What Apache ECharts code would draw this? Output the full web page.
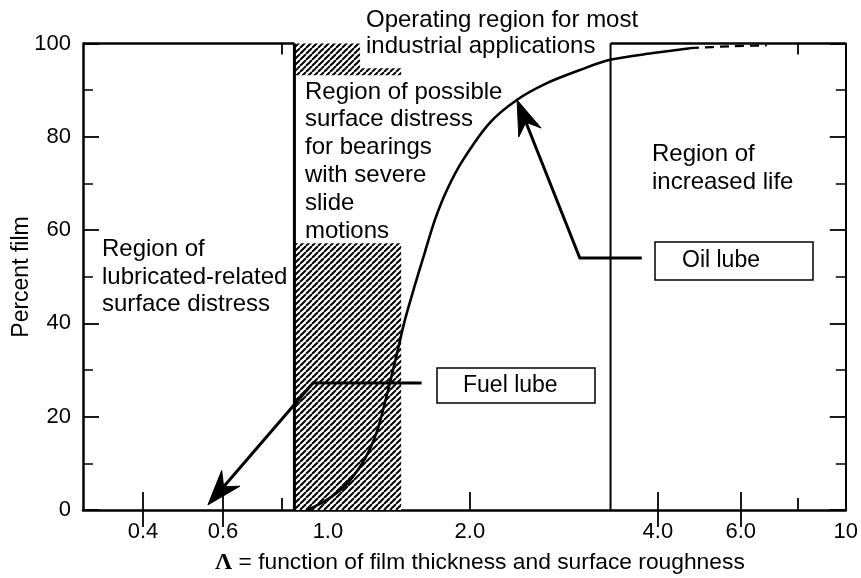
<!DOCTYPE html>
<html>
<head>
<meta charset="utf-8">
<script src="https://cdn.jsdelivr.net/npm/echarts@6/dist/echarts.min.js"></script>
<style>
html,body{margin:0;padding:0;background:#fff;}
#chart{width:861px;height:578px;}
</style>
</head>
<body>
<div id="chart"></div>
<script>
// ================= DATA =================
// x tick labels (Λ) and their values
const xTickLabels = ['0.4', '0.6', '1.0', '2.0', '4.0', '6.0', '10'];
const xTickValues = [0.4, 0.6, 1.0, 2.0, 4.0, 6.0, 10];
const xMinorTickValues = [0.8, 8.0];
const xTopTickValues = [0.4, 0.6, 4.0, 6.0];
const xTopMinorTickValues = [0.8, 8.0];
const xAxisMin = 0.3;
const xAxisMax = 10;

// percent-film curve (solid) and its dashed extension
const curveLambda  = [0.907, 0.962, 1.010, 1.086, 1.169, 1.228, 1.276, 1.334, 1.394, 1.456, 1.529, 1.606, 1.686, 1.788, 1.933, 2.152, 2.378, 2.657, 2.999, 3.351, 3.958, 4.68];
const curvePercent = [0.0,   1.3,   2.6,   5.1,   9.2,   13.1,  17.4,  24.7,  32.6,  40.7,  48.2,  55.3,  62.2,  68.6,  75.0,  83.0,  87.9,  91.5,  94.3,  96.5,  98.0,  99.0];
const dashLambda   = [4.68, 5.68, 6.84];
const dashPercent  = [99.0, 99.4, 99.6];

// region boundaries (Λ)
const lubeDistressUpper = 0.85;   // right edge of "lubricated-related surface distress" region
const increasedLifeLower = 3.36;  // left edge of "increased life" region

// hatched areas: Λ from/to, percent from/to
const hatchLambdaFrom  = [0.85, 0.85, 0.85];
const hatchLambdaTo    = [1.43, 1.17, 1.43];
const hatchPercentFrom = [0.0, 94.7, 93.2];
const hatchPercentTo   = [57.2, 100, 94.7];

// annotation arrows (Λ, percent); last point is the arrow tip
const fuelArrowLambda  = [1.58, 0.93, 0.556];
const fuelArrowPercent = [27.2, 27.2, 1.1];
const oilArrowLambda   = [3.77, 3.00, 2.38];
const oilArrowPercent  = [54.0, 54.0, 87.9];

// ================= AXIS SCALE =================
// The printed Λ axis is a hand-drawn, non-uniform logarithmic scale;
// calibration of printed tick values to their fraction along the axis.
const axisCalLambda = [0.3, 0.4, 0.6, 0.8, 1.0, 2.0, 4.0, 6.0, 8.0, 10];
const axisCalFrac   = [0, 0.0786, 0.1835, 0.2608, 0.3211, 0.5072, 0.7536, 0.8624, 0.9371, 1];
function lam2u(L) {
  const n = axisCalLambda.length;
  for (let i = 0; i < n - 1; i++) {
    const a = axisCalLambda[i], b = axisCalLambda[i + 1];
    if (L <= b || i === n - 2) {
      const t = (Math.log(L) - Math.log(a)) / (Math.log(b) - Math.log(a));
      return axisCalFrac[i] + t * (axisCalFrac[i + 1] - axisCalFrac[i]);
    }
  }
}
function xLabelFor(u) {
  for (let i = 0; i < xTickValues.length; i++) {
    if (Math.abs(lam2u(xTickValues[i]) - u) < 1e-6) return xTickLabels[i];
  }
  return '';
}

// hatch pattern
function makeHatch() {
  const c = document.createElement('canvas');
  c.width = 6; c.height = 6;
  const g = c.getContext('2d');
  g.fillStyle = '#fff'; g.fillRect(0, 0, 6, 6);
  g.strokeStyle = '#000'; g.lineWidth = 2;
  g.beginPath();
  for (let k = -1; k <= 1; k++) { g.moveTo(k * 6, 6); g.lineTo(k * 6 + 6, 0); }
  g.stroke();
  return c;
}
const hatchFill = { image: makeHatch(), repeat: 'repeat' };

const FONT = 'Liberation Sans, Arial, Helvetica, sans-serif';
const BLACK = '#000';

const chart = echarts.init(document.getElementById('chart'), null, { renderer: 'canvas' });

const hatchData = hatchLambdaFrom.map((v, i) => [lam2u(v), lam2u(hatchLambdaTo[i]), hatchPercentFrom[i], hatchPercentTo[i]]);
const frameData = [
  [lam2u(xAxisMin), 100, lam2u(lubeDistressUpper), 100, 2.5],
  [lam2u(lubeDistressUpper), 0, lam2u(lubeDistressUpper), 100, 3],
  [lam2u(increasedLifeLower), 0, lam2u(increasedLifeLower), 100, 2],
  [lam2u(increasedLifeLower), 100, lam2u(xAxisMax), 100, 2.5]
];
const arrows = [
  fuelArrowLambda.map((L, i) => [lam2u(L), fuelArrowPercent[i]]),
  oilArrowLambda.map((L, i) => [lam2u(L), oilArrowPercent[i]])
];

function tickAxis(position, values, len) {
  return {
    type: 'value', min: 0, max: 1, position: position,
    axisLine: { show: false }, splitLine: { show: false },
    axisLabel: { show: false },
    axisTick: { show: true, inside: true, length: len, customValues: values.map(lam2u), lineStyle: { color: BLACK, width: 1.8 } }
  };
}

const option = {
  backgroundColor: '#fff',
  animation: false,
  grid: { left: 83, right: 15, top: 43.5, bottom: 68, containLabel: false },
  xAxis: [
    {
      type: 'value', min: 0, max: 1, position: 'bottom',
      axisLine: { show: true, onZero: false, lineStyle: { color: BLACK, width: 2.5 } },
      splitLine: { show: false },
      axisTick: { show: true, inside: true, length: 18, customValues: xTickValues.map(lam2u), lineStyle: { color: BLACK, width: 1.8 } },
      axisLabel: { customValues: xTickValues.map(lam2u), formatter: (v) => xLabelFor(v), color: BLACK, fontSize: 22, fontFamily: FONT, margin: 11 }
    },
    tickAxis('bottom', xMinorTickValues, 12),
    tickAxis('top', xTopTickValues, 17),
    tickAxis('top', xTopMinorTickValues, 11)
  ],
  yAxis: [
    {
      type: 'value', min: 0, max: 100, interval: 20, position: 'left',
      axisLine: { show: true, onZero: false, lineStyle: { color: BLACK, width: 2.5 } },
      axisTick: { show: true, inside: true, length: 16, lineStyle: { color: BLACK, width: 1.8 } },
      minorTick: { show: true, splitNumber: 2, length: 10, lineStyle: { color: BLACK, width: 1.5 } },
      axisLabel: { color: BLACK, fontSize: 22, fontFamily: FONT, margin: 12 },
      splitLine: { show: false }, minorSplitLine: { show: false }
    },
    {
      type: 'value', min: 0, max: 100, interval: 20, position: 'right',
      axisLine: { show: true, onZero: false, lineStyle: { color: BLACK, width: 2 } },
      axisTick: { show: true, inside: true, length: 16, lineStyle: { color: BLACK, width: 1.8 } },
      minorTick: { show: true, splitNumber: 2, length: 10, lineStyle: { color: BLACK, width: 1.5 } },
      axisLabel: { show: false },
      splitLine: { show: false }, minorSplitLine: { show: false }
    }
  ],
  series: [
    {
      type: 'custom', name: 'hatch', z: 1,
      renderItem: function (params, api) {
        const p0 = api.coord([api.value(0), api.value(3)]);
        const p1 = api.coord([api.value(1), api.value(2)]);
        return { type: 'rect', shape: { x: p0[0], y: p0[1], width: p1[0] - p0[0], height: p1[1] - p0[1] }, style: { fill: hatchFill, stroke: null } };
      },
      encode: { x: [0, 1], y: [2, 3] },
      data: hatchData
    },
    {
      type: 'custom', name: 'frame', z: 3,
      renderItem: function (params, api) {
        const a = api.coord([api.value(0), api.value(1)]);
        const b = api.coord([api.value(2), api.value(3)]);
        return { type: 'line', shape: { x1: a[0], y1: a[1], x2: b[0], y2: b[1] }, style: { stroke: BLACK, lineWidth: api.value(4) } };
      },
      encode: { x: [0, 2], y: [1, 3] },
      data: frameData
    },
    {
      type: 'line', name: 'Percent film', z: 5,
      data: curveLambda.map((L, i) => [lam2u(L), curvePercent[i]]),
      smooth: 0.3, showSymbol: false, symbol: 'none',
      lineStyle: { color: BLACK, width: 2.6 }
    },
    {
      type: 'line', name: 'Percent film (extrapolated)', z: 5,
      data: dashLambda.map((L, i) => [lam2u(L), dashPercent[i]]),
      smooth: 0.3, showSymbol: false, symbol: 'none',
      lineStyle: { color: BLACK, width: 2.2, type: [9, 6] }
    },
    {
      type: 'custom', name: 'arrows', z: 6,
      renderItem: function (params, api) {
        const pts = arrows[params.dataIndex].map(p => api.coord(p));
        const n = pts.length;
        const tip = pts[n - 1], prev = pts[n - 2];
        let dx = tip[0] - prev[0], dy = tip[1] - prev[1];
        const len = Math.hypot(dx, dy); dx /= len; dy /= len;
        const nx = -dy, ny = dx;
        const L = 35, W = 12, notch = 24;
        const w1 = [tip[0] - dx * L + nx * W, tip[1] - dy * L + ny * W];
        const w2 = [tip[0] - dx * L - nx * W, tip[1] - dy * L - ny * W];
        const nb = [tip[0] - dx * notch, tip[1] - dy * notch];
        const linePts = pts.slice(0, n - 1).concat([nb]);
        return {
          type: 'group',
          children: [
            { type: 'polyline', shape: { points: linePts }, style: { stroke: BLACK, lineWidth: 3, fill: null, lineJoin: 'miter' } },
            { type: 'polygon', shape: { points: [tip, w1, nb, w2] }, style: { fill: BLACK, stroke: BLACK, lineWidth: 1 } }
          ]
        };
      },
      data: [[0], [1]]
    }
  ],
  graphic: [
    { type: 'text', left: 366, top: 7, z: 10, style: { text: 'Operating region for most\nindustrial applications', font: '24px ' + FONT, fill: BLACK, lineHeight: 26 } },
    { type: 'text', left: 305, top: 78, z: 10, style: { text: 'Region of possible\nsurface distress\nfor bearings\nwith severe\nslide\nmotions', font: '24px ' + FONT, fill: BLACK, lineHeight: 27.8 } },
    { type: 'text', left: 102, top: 236, z: 10, style: { text: 'Region of\nlubricated-related\nsurface distress', font: '24px ' + FONT, fill: BLACK, lineHeight: 27.5 } },
    { type: 'text', left: 652, top: 140, z: 10, style: { text: 'Region of\nincreased life', font: '24px ' + FONT, fill: BLACK, lineHeight: 28 } },
    { type: 'rect', z: 10, shape: { x: 437, y: 368, width: 158, height: 35 }, style: { fill: '#fff', stroke: BLACK, lineWidth: 1.5 } },
    { type: 'text', z: 11, x: 463, y: 386, style: { text: 'Fuel lube', font: '23px ' + FONT, fill: BLACK, textVerticalAlign: 'middle', verticalAlign: 'middle' } },
    { type: 'rect', z: 10, shape: { x: 655, y: 242, width: 158, height: 38 }, style: { fill: '#fff', stroke: BLACK, lineWidth: 1.5 } },
    { type: 'text', z: 11, x: 682, y: 261, style: { text: 'Oil lube', font: '23px ' + FONT, fill: BLACK, textVerticalAlign: 'middle', verticalAlign: 'middle' } },
    { type: 'text', z: 10, x: 22, y: 277, rotation: Math.PI / 2, style: { text: 'Percent film', font: '23px ' + FONT, fill: BLACK, align: 'center', verticalAlign: 'middle' } },
    { type: 'text', z: 10, x: 215, y: 563, style: {
        text: '{l|Λ} = function of film thickness and surface roughness',
        font: '22.8px ' + FONT, fill: BLACK, verticalAlign: 'middle',
        rich: { l: { fontFamily: 'Liberation Serif, Times New Roman, serif', fontWeight: 'bold', fontSize: 24, fill: BLACK } }
    } }
  ]
};
chart.setOption(option);
</script>
</body>
</html>
